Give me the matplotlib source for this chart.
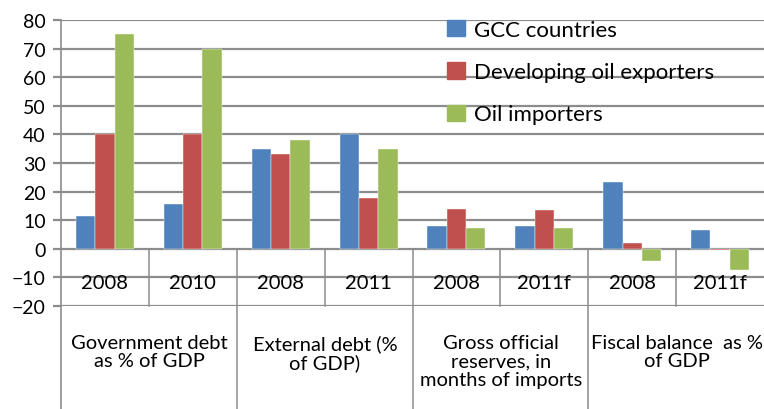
import numpy as np
import matplotlib
matplotlib.use("Agg")
from matplotlib import pyplot as plt
from matplotlib.patches import Patch

plt.rcParams['font.family'] = ['Lato', 'DejaVu Sans']

years = ['2008', '2010', '2008', '2011', '2008', '2011f', '2008', '2011f']
groups = ['Government debt\nas % of GDP', 'External debt (%\nof GDP)',
          'Gross official\nreserves, in\nmonths of imports', 'Fiscal balance  as %\nof GDP']
series = ['GCC countries', 'Developing oil exporters', 'Oil importers']
gcc = [11.3, 15.8, 34.8, 40.3, 8.0, 8.0, 23.3, 6.4]
dev = [40.0, 40.3, 33.2, 17.8, 14.0, 13.4, 1.9, -0.5]
imp = [75.0, 70.0, 38.1, 34.8, 7.4, 7.4, -4.2, -7.5]
colors = ['#4F81BD', '#C0504D', '#9BBB59']
grid_col = '#8C8C8C'

fig = plt.figure(figsize=(7.64, 4.10), dpi=100)
ax = fig.add_axes([61/764, 1-307/410, 1-61/764, 286/410])

x = np.arange(len(years))
w = 0.22
for i, vals in enumerate([gcc, dev, imp]):
    ax.bar(x + (i-1)*w, vals, w, color=colors[i], edgecolor='white', linewidth=0.3, zorder=3)

ax.set_xlim(-0.5, 7.5)
ax.set_ylim(-20, 80)
ax.set_yticks(range(-20, 81, 10))
ax.set_xticks([])
for v in range(-20, 81, 10):
    ax.axhline(v, color=grid_col, lw=1.6, zorder=1)
for s in ['top', 'right', 'bottom']:
    ax.spines[s].set_visible(False)
ax.spines['left'].set_color(grid_col)
ax.spines['left'].set_linewidth(1.2)
ax.tick_params(axis='y', direction='out', length=6, width=1.6, color=grid_col,
               labelsize=14, pad=5)

# year labels and separators
for i, yr in enumerate(years):
    ax.text(i, -11.8, yr, ha='center', va='center', fontsize=14.5, zorder=4)
for k in range(1, 8):
    if k % 2 == 0:
        ax.axvline(k-0.5, ymin=-0.36, ymax=0.2, color=grid_col, lw=1.1, clip_on=False)
    else:
        ax.axvline(k-0.5, ymin=0, ymax=0.2, color=grid_col, lw=1.1, clip_on=False)
ax.axvline(-0.5, ymin=-0.36, ymax=0, color=grid_col, lw=1.2, clip_on=False)

# group labels
for j, g in enumerate(groups):
    fig.text((61 + 176*j + 88)/764, 1-335/410, g, ha='center', va='top',
             fontsize=14.5, linespacing=1.1)

handles = [Patch(color=c) for c in colors]
leg = ax.legend(handles, series, loc='upper left', frameon=False, fontsize=16,
                handlelength=0.8, handleheight=0.75, handletextpad=0.4,
                labelspacing=1.0, borderpad=0, borderaxespad=0)
leg.set_bbox_to_anchor((447/764, 1-21/410), transform=fig.transFigure)
leg.set_zorder(5)

fig.savefig('out.png', dpi=100)
